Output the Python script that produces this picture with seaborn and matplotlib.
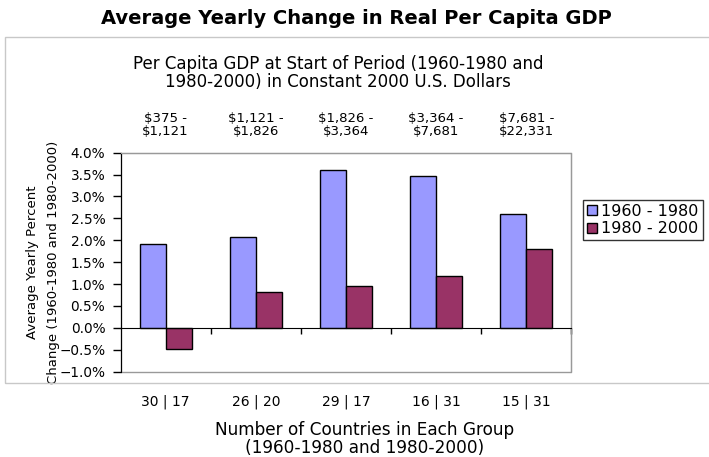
import pandas as pd
import seaborn as sns
import matplotlib.pyplot as plt
from matplotlib.patches import Rectangle
from matplotlib.ticker import PercentFormatter

# data
groups = ['30 | 17', '26 | 20', '29 | 17', '16 | 31', '15 | 31']
income_ranges = ['$375 -\n$1,121', '$1,121 -\n$1,826', '$1,826 -\n$3,364',
                 '$3,364 -\n$7,681', '$7,681 -\n$22,331']
growth_60_80 = [1.91, 2.07, 3.60, 3.47, 2.59]
growth_80_00 = [-0.47, 0.83, 0.95, 1.18, 1.79]
periods = ['1960 - 1980', '1980 - 2000']

df = pd.DataFrame({
    'group': groups * 2,
    'period': [periods[0]] * 5 + [periods[1]] * 5,
    'change': growth_60_80 + growth_80_00,
})

sns.set_style('white')
plt.rcParams['font.family'] = ['DejaVu Sans']
plt.rcParams['text.color'] = 'black'
plt.rcParams['axes.labelcolor'] = 'black'
plt.rcParams['xtick.color'] = 'black'
plt.rcParams['ytick.color'] = 'black'

fig = plt.figure(figsize=(7.09, 4.57), dpi=100)
ax = fig.add_axes([0.170, 0.1866, 0.636, 0.4794])

sns.barplot(data=df, x='group', y='change', hue='period', order=groups,
            palette=['#9999FF', '#993366'], width=0.578, edgecolor='black',
            linewidth=1.0, saturation=1, ax=ax)

ax.set_ylim(-1, 4)
ax.set_xlim(-0.5, 4.5)
ax.set_yticks([-1, -0.5, 0, 0.5, 1, 1.5, 2, 2.5, 3, 3.5, 4])
ax.yaxis.set_major_formatter(PercentFormatter(decimals=1))
ax.tick_params(axis='y', direction='out', length=6, width=1, color='black',
               labelcolor='black', labelsize=9.8, pad=5, left=True)

# category axis sits on the zero line, ticks between groups
ax.spines['bottom'].set_position(('data', 0))
ax.spines['bottom'].set_color('black')
ax.set_xticks([0.5, 1.5, 2.5, 3.5, 4.5])
ax.set_xticklabels([])
ax.tick_params(axis='x', direction='out', length=4, width=1, color='black', bottom=True)

ax.spines['left'].set_color('black')
for s in ['top', 'right']:
    ax.spines[s].set_color('#999999')
ax.add_patch(Rectangle((0, 0), 1, 1, transform=ax.transAxes, fill=False,
                       edgecolor='#999999', linewidth=1, zorder=0.5, clip_on=False))

ax.set_xlabel('')
ax.set_ylabel('Average Yearly Percent\nChange (1960-1980 and 1980-2000)',
              fontsize=9.5, linespacing=1.75, color='black')
ax.yaxis.set_label_coords(-0.135, 0.5)

trans = ax.get_xaxis_transform()
for i, (g, r) in enumerate(zip(groups, income_ranges)):
    ax.text(i, -0.135, g, transform=trans, ha='center', va='center', fontsize=10)
    ax.text(i, 1.125, r, transform=trans, ha='center', va='center', fontsize=9.5,
            linespacing=1.0)

ax.legend_.remove()
handles, labels = ax.get_legend_handles_labels()
fig.legend(handles, labels, loc='upper left', bbox_to_anchor=(583 / 709, 1 - 200 / 457),
           frameon=True, fancybox=False, edgecolor='black', fontsize=11.5,
           handlelength=0.6, handleheight=0.6, handletextpad=0.3,
           borderpad=0.25, labelspacing=0.15, borderaxespad=0)

# outer chart frame
fig.patches.append(Rectangle((5 / 709, 1 - 383 / 457), 710 / 709, 346 / 457,
                             transform=fig.transFigure, fill=False,
                             edgecolor='#C8C8C8', linewidth=1))

fig.text(356 / 709, 1 - 19 / 457, 'Average Yearly Change in Real Per Capita GDP',
         ha='center', va='center', fontsize=14, fontweight='bold')
fig.text(338 / 709, 1 - 73 / 457,
         'Per Capita GDP at Start of Period (1960-1980 and\n1980-2000) in Constant 2000 U.S. Dollars',
         ha='center', va='center', fontsize=12, linespacing=1.05)
fig.text(365 / 709, 1 - 439 / 457,
         'Number of Countries in Each Group\n(1960-1980 and 1980-2000)',
         ha='center', va='center', fontsize=12.2, linespacing=1.0)

fig.savefig('out.png', dpi=100)
